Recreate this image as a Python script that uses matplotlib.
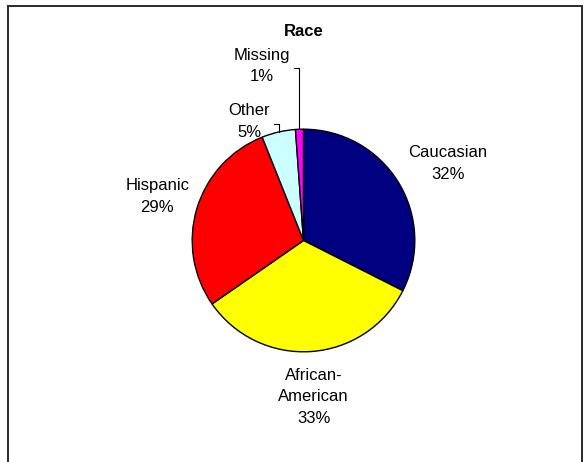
import matplotlib
matplotlib.use("Agg")
import matplotlib.pyplot as plt
from matplotlib.patches import Rectangle
import numpy as np

plt.rcParams['font.family'] = ['Liberation Sans', 'DejaVu Sans']

# data
categories = ['Caucasian', 'African-\nAmerican', 'Hispanic', 'Other', 'Missing']
shares = [32.45, 32.9, 28.6, 4.9, 1.15]
colors = ['#000080', '#FFFF00', '#FF0000', '#CCFFFF', '#FF00FF']

# label layout (pie radius units)
label_xy = [(1.295, 0.69), (0.09, -1.405), (-1.314, 0.394), (-0.49, 1.067), (-0.378, 1.568)]
leader = [False, False, False, True, True]

W, H = 587, 462
fig = plt.figure(figsize=(W / 100, H / 100), dpi=100)
ax = fig.add_axes([0, 0, 1, 1])

wedges, _ = ax.pie(shares, colors=colors, startangle=90, counterclock=False,
                   wedgeprops=dict(edgecolor='black', linewidth=1.0))

# pie centre and radius in pixels
cx, cy, r = 303.5, 240.5, 111.3
ax.set_xlim(-cx / r, (W - cx) / r)
ax.set_ylim(-(H - cy) / r, cy / r)
ax.set_aspect('auto')
ax.axis('off')

for w, name, val, (lx, ly), lead in zip(wedges, categories, shares, label_xy, leader):
    ax.text(lx, ly, f"{name}\n{round(val)}%", ha='center', va='center',
            multialignment='center', fontsize=12, linespacing=1.57)
    if lead:
        # short horizontal tick, then down to the slice edge
        mid = np.deg2rad((w.theta1 + w.theta2) / 2)
        px, py = np.cos(mid), np.sin(mid)
        yl = ly - 2 / r
        ax.plot([px - 5 / r, px, px], [yl, yl, py], color='black', lw=0.8)

ax.text(0, (cy - 31.7) / r, 'Race', ha='center', va='center',
        fontsize=12, fontweight='bold')

fig.add_artist(Rectangle((8 / W, -0.1), (582 - 8) / W, (H - 6.5) / H + 0.1,
                         transform=fig.transFigure, fill=False,
                         edgecolor='#2a2a2a', lw=1.4))

fig.savefig('out.png', dpi=100)
